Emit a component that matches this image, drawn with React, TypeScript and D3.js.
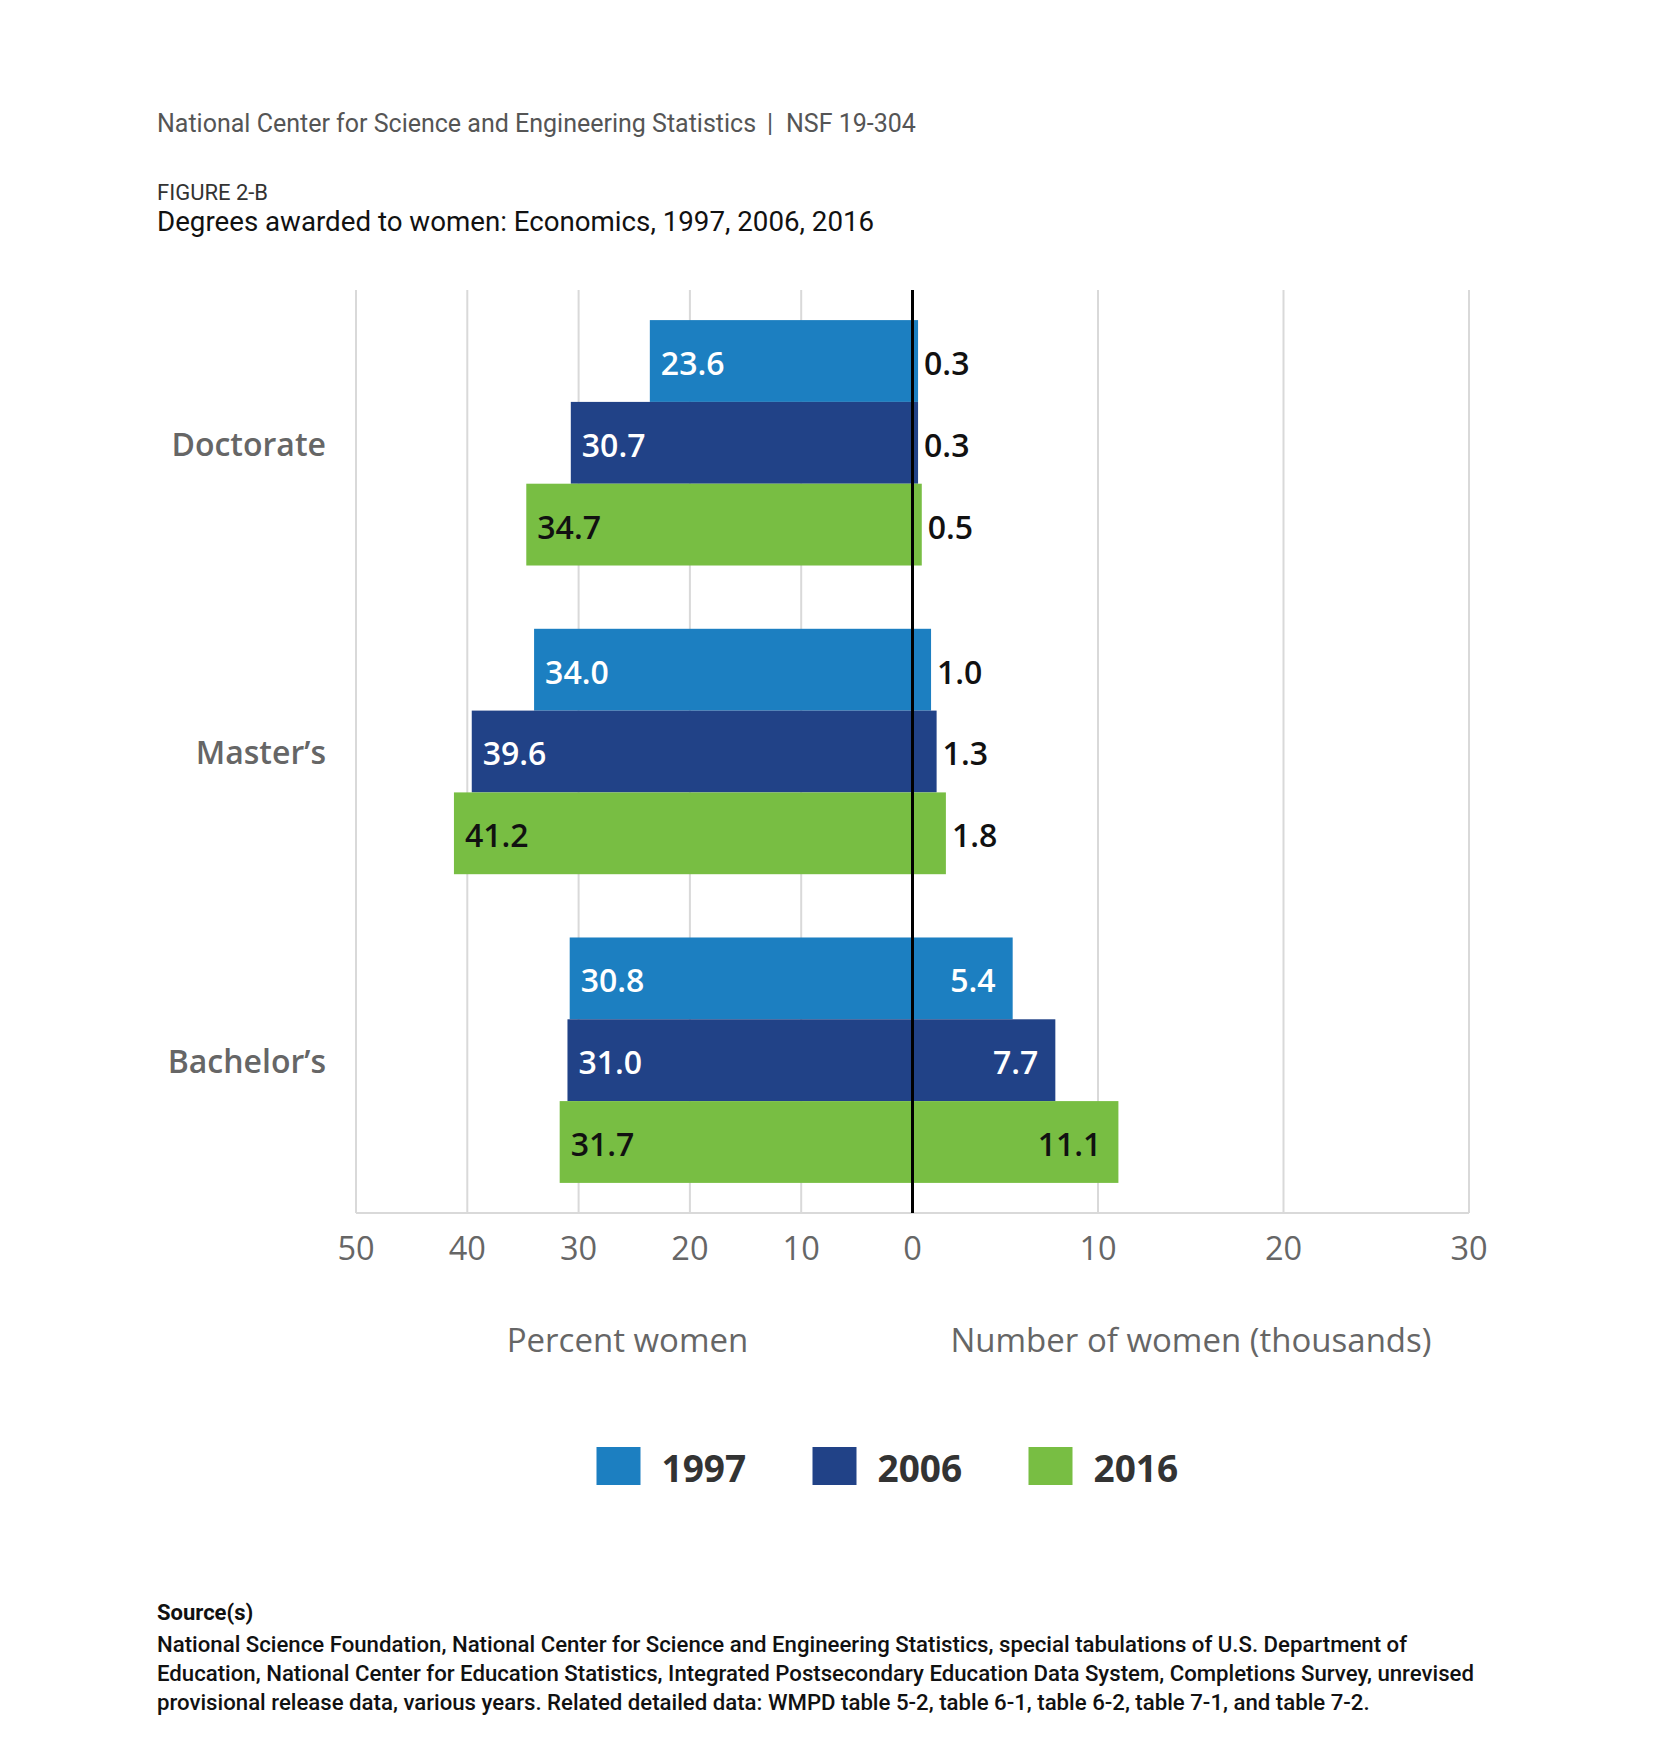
import React from 'react';
import * as d3 from 'd3';

const categories = ['Doctorate', 'Master’s', 'Bachelor’s'];
const years = ['1997', '2006', '2016'];

// percent women (left side)
const percent1997 = [23.6, 34.0, 30.8];
const percent2006 = [30.7, 39.6, 31.0];
const percent2016 = [34.7, 41.2, 31.7];

// number of women, thousands (right side)
const count1997 = [0.3, 1.0, 5.4];
const count2006 = [0.3, 1.3, 7.7];
const count2016 = [0.5, 1.8, 11.1];

const seriesColors = ['#1c7fc1', '#214287', '#78be43'];
const labelColors = ['#ffffff', '#ffffff', '#111111'];

const sourceLines = [
  'National Science Foundation, National Center for Science and Engineering Statistics, special tabulations of U.S. Department of',
  'Education, National Center for Education Statistics, Integrated Postsecondary Education Data System, Completions Survey, unrevised',
  'provisional release data, various years. Related detailed data: WMPD table 5-2, table 6-1, table 6-2, table 7-1, and table 7-2.',
];

const W = 1654;
const H = 1745;
const zeroX = 912.5;
const top = 290;
const bottom = 1213;

const App: React.FC = () => {
  const percents = [percent1997, percent2006, percent2016];
  const counts = [count1997, count2006, count2016];

  const xLeft = d3.scaleLinear().domain([0, 50]).range([zeroX, 356]);
  const xRight = d3.scaleLinear().domain([0, 30]).range([zeroX, 1469]);

  const yGroup = d3.scaleBand()
    .domain(categories)
    .range([top, bottom])
    .paddingInner(0.205)
    .paddingOuter(0.0975);

  const ySeries = d3.scaleBand()
    .domain(years)
    .range([0, yGroup.bandwidth()])
    .padding(0);

  const chartFont = "'Open Sans', sans-serif";
  const textFont = "Roboto, sans-serif";

  const leftTicks = xLeft.ticks(5);
  const rightTicks = xRight.ticks(3).filter(t => t !== 0);

  const legendX = d3.scaleBand().domain(years).range([596.5, 596.5 + 216 * 3]);

  return (
    <svg width={W} height={H} style={{ position: 'absolute', left: 0, top: 0, background: '#fff' }}>
      {/* header */}
      <text x={157} y={131.7} fontFamily={textFont} fontSize={25} fill="#555">
        National Center for Science and Engineering Statistics
      </text>
      <text x={767} y={131.7} fontFamily={textFont} fontSize={25} fill="#555">|</text>
      <text x={786} y={131.7} fontFamily={textFont} fontSize={25} fill="#555">NSF 19-304</text>
      <text x={157} y={200} fontFamily={textFont} fontSize={22} fill="#333">FIGURE 2-B</text>
      <text x={157} y={231} fontFamily={textFont} fontSize={27.7} fill="#111">
        Degrees awarded to women: Economics, 1997, 2006, 2016
      </text>

      {/* grid */}
      {leftTicks.filter(t => t !== 0).map(t => (
        <line key={'gl' + t} x1={xLeft(t)} x2={xLeft(t)} y1={top} y2={bottom} stroke="#d9d9d9" strokeWidth={2} />
      ))}
      {rightTicks.map(t => (
        <line key={'gr' + t} x1={xRight(t)} x2={xRight(t)} y1={top} y2={bottom} stroke="#d9d9d9" strokeWidth={2} />
      ))}
      <line x1={xLeft(50)} x2={xRight(30)} y1={bottom} y2={bottom} stroke="#d9d9d9" strokeWidth={2} />

      {/* bars */}
      {categories.map((c, ci) => (
        <g key={c} transform={`translate(0,${yGroup(c)})`}>
          {years.map((yr, si) => {
            const y0 = ySeries(yr)!;
            const h = ySeries.bandwidth();
            const p = percents[si][ci];
            const n = counts[si][ci];
            const inside = n > 3;
            const cy = y0 + h / 2 + 14;
            return (
              <g key={yr}>
                <rect x={xLeft(p)} y={y0} width={zeroX - xLeft(p)} height={h} fill={seriesColors[si]} />
                <rect x={zeroX} y={y0} width={xRight(n) - zeroX} height={h} fill={seriesColors[si]} />
                <text x={xLeft(p) + 11} y={cy} fontFamily={chartFont} fontWeight={600} fontSize={32} fill={labelColors[si]}>
                  {p.toFixed(1)}
                </text>
                <text
                  x={inside ? xRight(n) - 17 : xRight(n) + 6}
                  y={cy}
                  textAnchor={inside ? 'end' : 'start'}
                  fontFamily={chartFont}
                  fontWeight={600}
                  fontSize={32}
                  fill={inside ? labelColors[si] : '#111'}
                >
                  {n.toFixed(1)}
                </text>
              </g>
            );
          })}
          <text
            x={326}
            y={yGroup.bandwidth() / 2 + 13}
            textAnchor="end"
            fontFamily={chartFont}
            fontWeight={600}
            fontSize={32}
            fill="#666"
          >
            {c}
          </text>
        </g>
      ))}

      {/* zero line */}
      <line x1={zeroX} x2={zeroX} y1={top} y2={bottom} stroke="#000" strokeWidth={3} />

      {/* tick labels */}
      {leftTicks.map(t => (
        <text key={'tl' + t} x={xLeft(t)} y={1260} textAnchor="middle" fontFamily={chartFont} fontSize={32.5} fill="#666">
          {t}
        </text>
      ))}
      {rightTicks.map(t => (
        <text key={'tr' + t} x={xRight(t)} y={1260} textAnchor="middle" fontFamily={chartFont} fontSize={32.5} fill="#666">
          {t}
        </text>
      ))}

      {/* axis titles */}
      <text x={627.5} y={1351.7} textAnchor="middle" fontFamily={chartFont} fontSize={33} fill="#666">Percent women</text>
      <text x={1191} y={1351.7} textAnchor="middle" fontFamily={chartFont} fontSize={33} fill="#666">
        Number of women (thousands)
      </text>

      {/* legend */}
      {years.map((yr, si) => (
        <g key={'lg' + yr} transform={`translate(${legendX(yr)},1447)`}>
          <rect width={44} height={38} fill={seriesColors[si]} />
          <text x={65} y={35} fontFamily={chartFont} fontWeight="bold" fontSize={37} fill="#333">{yr}</text>
        </g>
      ))}

      {/* source */}
      <text x={157} y={1620} fontFamily={textFont} fontWeight="bold" fontSize={22} fill="#111">Source(s)</text>
      {sourceLines.map((l, i) => (
        <text key={i} x={157} y={1651.7 + i * 29} fontFamily={textFont} fontWeight={500} fontSize={22.2} fill="#111">
          {l}
        </text>
      ))}
    </svg>
  );
};

export default App;
